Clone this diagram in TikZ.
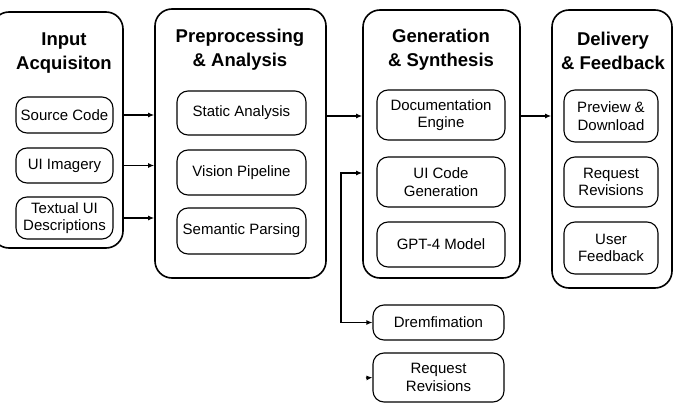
\documentclass[tikz,border=0pt]{standalone}
\usepackage{fontspec}
\setmainfont{Liberation Sans}
\usetikzlibrary{arrows.meta}

\begin{document}
\begin{tikzpicture}[x=1pt, y=-1pt, >={Latex[length=6pt, width=5pt]}, stage/.style={draw, line width=1.6pt, rounded corners=17pt, inner sep=0pt}, part/.style={draw, line width=1.1pt, rounded corners=11pt, inner sep=0pt, align=center, font=\fontsize{15}{17.5}\selectfont}, ttl/.style={align=center, font=\bfseries\fontsize{18.5}{24}\selectfont}, link/.style={->, line width=1.3pt}]
	\clip (0,0) rectangle (680,403);
	% stages
	\node[stage, minimum width=131, minimum height=236] (inp) at (57.5,130) {};
	\node[stage, minimum width=171, minimum height=269] (prep) at (240.5,143.5) {};
	\node[stage, minimum width=157, minimum height=268] (gen) at (441.5,144) {};
	\node[stage, minimum width=120, minimum height=278] (del) at (612,149) {};
	\node[ttl] (tinp) at (64,53) {Input\\Acquisiton};
	\node[ttl] (tprep) at (240,50) {Preprocessing\\\& Analysis};
	\node[ttl] (tgen) at (441,50) {Generation\\\& Synthesis};
	\node[ttl] (tdel) at (613,51) {Delivery\\\& Feedback};
	% input parts
	\node[part, minimum width=97, minimum height=36] (src) at (64.5,115) {Source Code};
	\node[part, minimum width=97, minimum height=35] (img) at (64.5,165.5) {UI Imagery};
	\node[part, minimum width=97, minimum height=42] (txt) at (64.5,218) {Textual UI\\Descriptions};
	% preprocessing parts
	\node[part, minimum width=129, minimum height=44] (stat) at (241.5,113) {Static Analysis};
	\node[part, minimum width=129, minimum height=45] (vis) at (241.5,172.5) {Vision Pipeline};
	\node[part, minimum width=129, minimum height=46] (sem) at (241.5,231) {Semantic Parsing};
	% generation parts
	\node[part, minimum width=128, minimum height=50] (doc) at (441,115) {Documentation\\Engine};
	\node[part, minimum width=128, minimum height=50] (uic) at (441,182) {UI Code\\Generation};
	\node[part, minimum width=128, minimum height=45] (gpt) at (441,244.5) {GPT-4 Model};
	% delivery parts
	\node[part, minimum width=94, minimum height=52] (prev) at (611,116) {Preview \&\\Download};
	\node[part, minimum width=94, minimum height=50] (req) at (611,182) {Request\\Revisions};
	\node[part, minimum width=94, minimum height=52] (usr) at (611,248) {User\\Feedback};
	% loose parts below
	\node[part, minimum width=131, minimum height=35] (drem) at (438.5,322.5) {Dremfimation};
	\node[part, minimum width=131, minimum height=49] (rrev) at (438.5,377.5) {Request\\Revisions};
	% connectors
	\foreach \n in {src, img, txt} {\draw[link] (\n.east -| inp.east) -- (\n.east -| prep.west);}
	\draw[link] (prep.east |- 0,116) -- (gen.west |- 0,116);
	\draw[link] (gen.east |- 0,116) -- (del.west |- 0,116);
	\coordinate (loop) at (341,173);
	\draw[<->, line width=1.3pt] (gen.west |- loop) -- (loop) |- (drem.west);
	\coordinate (stub) at (366,378);
	\draw[link] (stub) -- (rrev.west);
\end{tikzpicture}
\end{document}
